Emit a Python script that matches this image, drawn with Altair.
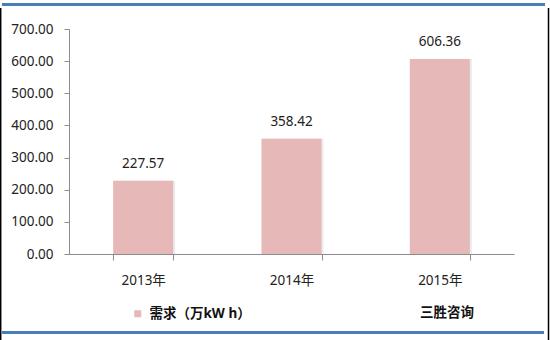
import altair as alt
import pandas as pd

years = ["2013年", "2014年", "2015年"]
demand = [227.57, 358.42, 606.36]
series_name = "需求（万kW h）"
source_note = "三胜咨询"
y_ticks = [0, 100, 200, 300, 400, 500, 600, 700]

df = pd.DataFrame({"year": years, "demand": demand, "series": [series_name] * len(years)})
one = pd.DataFrame({"note": [source_note]})

FONT = "Noto Sans, Noto Sans CJK SC"
BAR = "#E6B8B7"
AXIS = "#8c8c8c"

x_enc = alt.X(
    "year:N", sort=years,
    scale=alt.Scale(paddingInner=0.595, paddingOuter=0.2975),
    axis=alt.Axis(title=None, labelAngle=0, domainColor=AXIS, tickColor=AXIS,
                  tickSize=6, tickBand="extent", labelPadding=13,
                  labelFontSize=13.5, labelColor="#222222", labelFont=FONT),
)
y_enc = alt.Y(
    "demand:Q",
    scale=alt.Scale(domain=[0, 700], nice=False),
    axis=alt.Axis(title=None, values=y_ticks, tickCount=8, format=".2f", grid=False,
                  labelOverlap=False, labelFlush=False,
                  domainColor=AXIS, tickColor=AXIS, tickSize=5, labelPadding=11,
                  labelFontSize=13.5, labelColor="#222222", labelFont=FONT),
)

base = alt.Chart(df).encode(x=x_enc, y=y_enc)

shadow = base.mark_bar(color="#dfe5e5", opacity=0.7, xOffset=2)

bars = base.mark_bar().encode(
    color=alt.Color(
        "series:N",
        scale=alt.Scale(domain=[series_name], range=[BAR]),
        legend=alt.Legend(title=None, orient="none", legendX=62, legendY=278,
                          symbolType="square", symbolSize=49, symbolStrokeWidth=0,
                          labelFontSize=13.5, labelFontWeight="bold", labelFont=FONT,
                          labelColor="#111111", labelOffset=5),
    ),
)

labels = base.mark_text(baseline="middle", dy=-17, fontSize=13.5, font=FONT, color="#222222").encode(
    text=alt.Text("demand:Q", format=".2f")
)

note = alt.Chart(one).mark_text(align="left", baseline="middle", fontSize=13.5,
                                fontWeight="bold", font=FONT, color="#111111").encode(
    x=alt.value(351), y=alt.value(284), text="note:N"
)

blue = "#4a7ebb"
top_line = alt.Chart(one).mark_rule(color=blue, strokeWidth=3).encode(
    x=alt.value(-67), x2=alt.value(476), y=alt.value(-24.5))
bottom_line = alt.Chart(one).mark_rule(color=blue, strokeWidth=3).encode(
    x=alt.value(-67), x2=alt.value(475), y=alt.value(303.5))
left_line = alt.Chart(one).mark_rule(color="#000000", strokeWidth=1.5).encode(
    x=alt.value(-68.3), y=alt.value(-21), y2=alt.value(311))
right_line = alt.Chart(one).mark_rule(color="#000000", strokeWidth=1.5).encode(
    x=alt.value(479.5), y=alt.value(-21), y2=alt.value(311))

chart = alt.layer(
    shadow, bars, labels, note, top_line, bottom_line, left_line, right_line
).properties(
    width=445, height=225,
    padding={"left": 69, "top": 29, "right": 36, "bottom": 86},
    autosize=alt.AutoSizeParams(type="none"),
    background="white",
).configure_view(stroke=None)

chart.save("out.html", embed_options={"renderer": "svg", "actions": False})
